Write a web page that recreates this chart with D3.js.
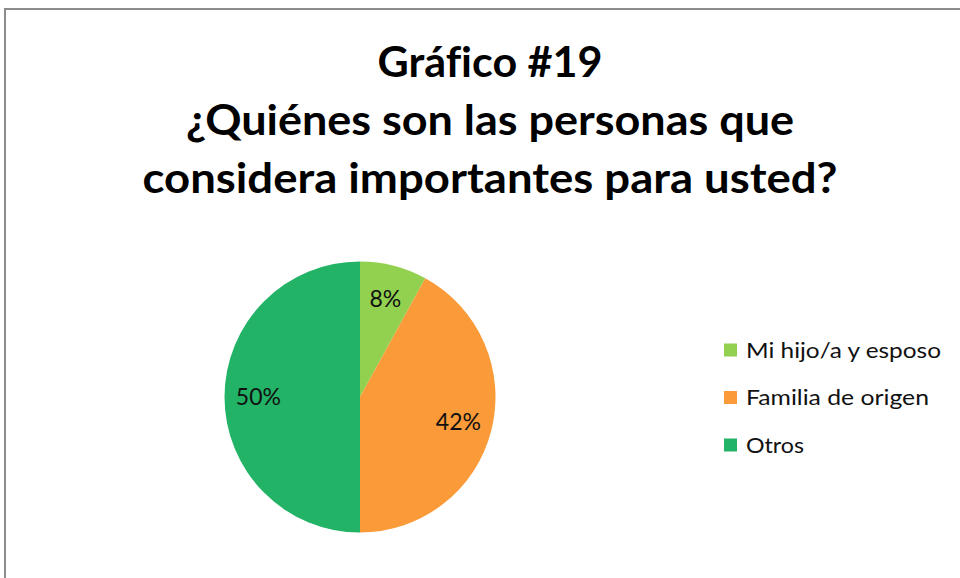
<!DOCTYPE html>
<html><head><meta charset="utf-8">
<script src="https://cdn.jsdelivr.net/npm/d3@7"></script>
<style>html,body{margin:0;padding:0;background:#fff;overflow:hidden} text{font-variant-ligatures:none;font-feature-settings:"liga" 0}</style>
</head><body>
<svg id="chart" width="960" height="578"></svg>
<script>
const categories = ["Mi hijo/a y esposo", "Familia de origen", "Otros"];
const values = [8, 42, 50];
const colors = ["#92D050", "#FA9A38", "#22B366"];
const titleLines = ["Gráfico #19", "¿Quiénes son las personas que", "considera importantes para usted?"];

const svg = d3.select("#chart");
const font = "Lato, Calibri, 'Open Sans', sans-serif";

// frame
svg.append("path").attr("d", "M5,578 V9 H960").attr("fill", "none").attr("stroke", "#8c8c8c").attr("stroke-width", 2);

// title
const titleWidths = [225, 608, 695];
svg.append("g").selectAll("text").data(titleLines).join("text")
  .attr("x", 490).attr("y", (d, i) => 77 + i * 58)
  .attr("text-anchor", "middle")
  .attr("font-family", font).attr("font-weight", "bold").attr("font-size", 42)
  .attr("fill", "#000")
  .attr("textLength", (d, i) => titleWidths[i]).attr("lengthAdjust", "spacingAndGlyphs")
  .text(d => d);

// pie
const cx = 360, cy = 397, r = 135.5;
const pie = d3.pie().sort(null).value(d => d)(values);
const arc = d3.arc().innerRadius(0).outerRadius(r);
const g = svg.append("g").attr("transform", `translate(${cx},${cy})`);
g.selectAll("path").data(pie).join("path")
  .attr("d", arc).attr("fill", (d, i) => colors[i]);

const labelArc = d3.arc().innerRadius(r * 0.75).outerRadius(r * 0.75);
g.selectAll("text").data(pie).join("text")
  .attr("transform", d => { const c = labelArc.centroid(d); return `translate(${c[0]},${c[1]})`; })
  .attr("text-anchor", "middle").attr("dy", "0.35em")
  .attr("font-family", font).attr("font-size", 23).attr("fill", "#111")
  .text(d => d.data + "%");

// legend
const legendWidths = [195, 183, 58];
const leg = svg.append("g").attr("transform", "translate(724,350)");
const rows = leg.selectAll("g").data(categories).join("g")
  .attr("transform", (d, i) => `translate(0,${i * 47.5})`);
rows.append("rect").attr("x", 0).attr("y", -6.5).attr("width", 13).attr("height", 13)
  .attr("fill", (d, i) => colors[i]);
rows.append("text").attr("x", 22).attr("y", 0).attr("dy", "0.36em")
  .attr("font-family", font).attr("font-size", 22).attr("fill", "#111")
  .attr("textLength", (d, i) => legendWidths[i]).attr("lengthAdjust", "spacingAndGlyphs")
  .text(d => d);
</script>
</body></html>
